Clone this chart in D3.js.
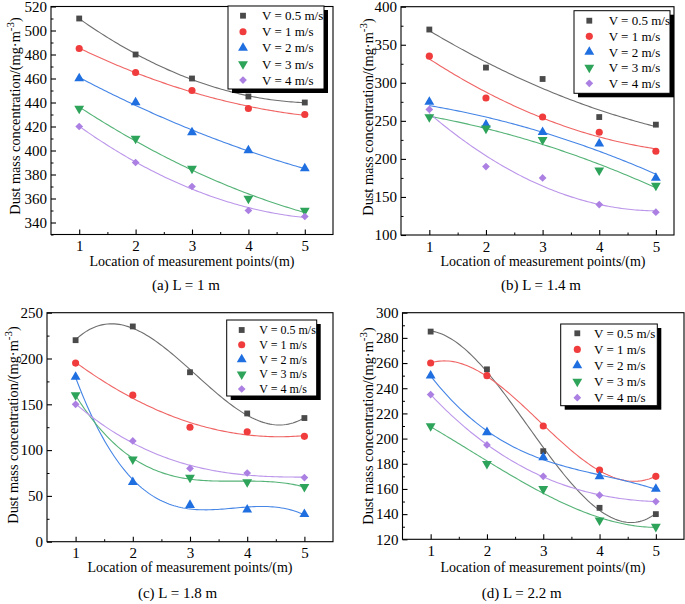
<!DOCTYPE html>
<html><head><meta charset="utf-8">
<script src="https://cdn.jsdelivr.net/npm/d3@7"></script>
<style>
body{margin:0;background:#fff}
svg{display:block}
text{font-family:"Liberation Serif","Times New Roman",serif;fill:#000}
</style>
</head><body>
<svg id="chart" width="685" height="604"></svg>
<script>
// ---------- data ----------
const positions = [1, 2, 3, 4, 5];
const seriesNames = ["V = 0.5 m/s", "V = 1 m/s", "V = 2 m/s", "V = 3 m/s", "V = 4 m/s"];

const panelA = [
  [510, 480, 460, 445, 440],
  [485, 465, 450, 435, 430],
  [460, 440, 415, 400, 385],
  [435, 410, 385, 360, 350],
  [420, 390, 370, 350, 345]
];
const panelB = [
  [370, 320, 305, 255, 245],
  [335, 280, 255, 235, 210],
  [275, 245, 235, 220, 175],
  [255, 240, 225, 185, 165],
  [265, 190, 175, 140, 130]
];
const panelC = [
  [220, 235, 185, 140, 135],
  [195, 160, 125, 120, 115],
  [180, 65, 40, 35, 30],
  [160, 90, 70, 65, 60],
  [150, 110, 80, 75, 70]
];
const panelD = [
  [285, 255, 190, 145, 140],
  [260, 250, 210, 175, 170],
  [250, 205, 185, 170, 160],
  [210, 180, 160, 135, 130],
  [235, 195, 170, 155, 150]
];

const xTicks = [1, 2, 3, 4, 5];
const yTicksA = [340, 360, 380, 400, 420, 440, 460, 480, 500, 520];
const yTicksB = [100, 150, 200, 250, 300, 350, 400];
const yTicksC = [0, 50, 100, 150, 200, 250];
const yTicksD = [120, 140, 160, 180, 200, 220, 240, 260, 280, 300];

const captions = ["(a) L = 1 m", "(b) L = 1.4 m", "(c) L = 1.8 m", "(d) L = 2.2 m"];
const xTitle = "Location of measurement points/(m)";
const yTitleMain = "Dust mass concentration/(mg\u00B7m";
const yTitleSup = "-3";

// ---------- styles ----------
const markerColors = ["#4a4a4a", "#f03c3c", "#1f6fe0", "#2ea35a", "#ab80e2"];
const lineColors = ["#6e6e6e", "#f06464", "#4585e6", "#55b377", "#bb96ea"];

const panels = [
  {data: panelA, yTicks: yTicksA, yDom: [330, 520], xDom: [0.5, 5.5], deg: 2,
   rect: {l: 51, t: 6.5, r: 333, b: 234.5},
   leg: {x: 228, y: 6, w: 96, h: 83, sx: 243, tx: 262, ry: 15.7, dy: 16.1, fs: 13},
   cap: {x: 186, y: 290}, xt: {x: 192, y: 266}, yt: {x: 15, y: 116}},
  {data: panelB, yTicks: yTicksB, yDom: [100, 400], xDom: [0.5, 5.32], deg: 2,
   rect: {l: 401, t: 6.7, r: 674, b: 235},
   leg: {x: 574, y: 10.7, w: 96, h: 82.6, sx: 589.3, tx: 608.7, ry: 20.7, dy: 15.65, fs: 13},
   cap: {x: 541, y: 290}, xt: {x: 543, y: 266}, yt: {x: 368, y: 117}},
  {data: panelC, yTicks: yTicksC, yDom: [0, 250], xDom: [0.5, 5.5], deg: 3,
   rect: {l: 47, t: 312.7, r: 333, b: 541.7},
   leg: {x: 226.7, y: 320, w: 90, h: 76, sx: 241.7, tx: 259.3, ry: 330, dy: 14.75, fs: 12},
   cap: {x: 177.5, y: 598}, xt: {x: 190, y: 572}, yt: {x: 13, y: 425}},
  {data: panelD, yTicks: yTicksD, yDom: [120, 300], xDom: [0.5, 5.5], deg: 3,
   rect: {l: 402.5, t: 312.7, r: 684, b: 539.3},
   leg: {x: 560.7, y: 324, w: 96.6, h: 81.7, sx: 577.3, tx: 594, ry: 333.3, dy: 16.1, fs: 13},
   cap: {x: 521.7, y: 598}, xt: {x: 543, y: 572}, yt: {x: 368, y: 426}}
];

// ---------- least-squares polynomial fit ----------
function polyfit(xs, ys, deg) {
  const n = deg + 1;
  const A = Array.from({length: n}, () => new Array(n + 1).fill(0));
  for (let i = 0; i < n; i++) {
    for (let j = 0; j < n; j++) A[i][j] = d3.sum(xs, x => Math.pow(x, i + j));
    A[i][n] = d3.sum(xs.map((x, k) => ys[k] * Math.pow(x, i)));
  }
  for (let c = 0; c < n; c++) {
    let p = c;
    for (let r = c + 1; r < n; r++) if (Math.abs(A[r][c]) > Math.abs(A[p][c])) p = r;
    [A[c], A[p]] = [A[p], A[c]];
    for (let r = 0; r < n; r++) {
      if (r === c) continue;
      const f = A[r][c] / A[c][c];
      for (let k = c; k <= n; k++) A[r][k] -= f * A[c][k];
    }
  }
  return A.map((row, i) => row[n] / row[i]);
}
const evalPoly = (co, x) => co.reduce((s, c, i) => s + c * Math.pow(x, i), 0);

const symbols = [
  {type: d3.symbolSquare, size: 34, rot: 0},
  {type: d3.symbolCircle, size: 40, rot: 0},
  {type: d3.symbolTriangle, size: 42, rot: 0},
  {type: d3.symbolTriangle, size: 42, rot: 180},
  {type: d3.symbolSquare, size: 30, rot: 45}
];

const svg = d3.select("#chart");

panels.forEach((P, pi) => {
  const R = P.rect;
  const x = d3.scaleLinear().domain(P.xDom).range([R.l, R.r]);
  const y = d3.scaleLinear().domain(P.yDom).range([R.b, R.t]);
  const g = svg.append("g");

  // fit curves
  const line = d3.line().x(d => x(d[0])).y(d => y(d[1]));
  P.data.forEach((vals, si) => {
    const co = polyfit(positions, vals, P.deg);
    const xs = d3.range(positions[0], positions[positions.length - 1] + 1e-9, 0.04);
    g.append("path")
      .attr("d", line(xs.map(v => [v, evalPoly(co, v)])))
      .attr("fill", "none").attr("stroke", lineColors[si]).attr("stroke-width", 1.1);
  });

  // markers
  P.data.forEach((vals, si) => {
    const s = symbols[si];
    const gen = d3.symbol().type(s.type).size(s.size);
    g.selectAll(null).data(vals).enter().append("path")
      .attr("d", gen)
      .attr("transform", (v, i) => `translate(${x(positions[i])},${y(v)}) rotate(${s.rot})`)
      .attr("fill", markerColors[si]);
  });

  // frame
  g.append("rect").attr("x", R.l).attr("y", R.t).attr("width", R.r - R.l).attr("height", R.b - R.t)
    .attr("fill", "none").attr("stroke", "#000").attr("stroke-width", 1.1);

  // y axis
  const yStep = P.yTicks[1] - P.yTicks[0];
  const yMinor = d3.range(P.yDom[0], P.yDom[1] + 1e-9, yStep / 2).filter(v => !P.yTicks.includes(v));
  const ya = g.append("g").attr("transform", `translate(${R.l},0)`)
    .call(d3.axisLeft(y).tickValues(P.yTicks).tickSize(-5).tickPadding(4).tickFormat(d3.format("d")));
  ya.select(".domain").remove();
  ya.selectAll("text").attr("font-size", 15).attr("font-family", "Liberation Serif");
  ya.selectAll("line").attr("stroke-width", 1.1);
  const ym = g.append("g").attr("transform", `translate(${R.l},0)`)
    .call(d3.axisLeft(y).tickValues(yMinor).tickSize(-2.5).tickFormat(""));
  ym.select(".domain").remove();

  // x axis
  const xMinor = d3.range(1.5, P.xDom[1], 1);
  const xa = g.append("g").attr("transform", `translate(0,${R.b})`)
    .call(d3.axisBottom(x).tickValues(xTicks).tickSize(-5).tickPadding(6).tickFormat(d3.format("d")));
  xa.select(".domain").remove();
  xa.selectAll("text").attr("font-size", 15).attr("font-family", "Liberation Serif");
  xa.selectAll("line").attr("stroke-width", 1.1);
  const xm = g.append("g").attr("transform", `translate(0,${R.b})`)
    .call(d3.axisBottom(x).tickValues(xMinor).tickSize(-2.5).tickFormat(""));
  xm.select(".domain").remove();

  // axis titles
  g.append("text").attr("x", P.xt.x).attr("y", P.xt.y).attr("text-anchor", "middle")
    .attr("font-size", 14).text(xTitle);
  const yt = g.append("text").attr("transform", `translate(${P.yt.x + 5},${P.yt.y}) rotate(-90)`)
    .attr("text-anchor", "middle").attr("font-size", 14.3);
  yt.append("tspan").text(yTitleMain);
  yt.append("tspan").attr("dy", -6).attr("font-size", 11).text(yTitleSup);
  yt.append("tspan").attr("dy", 6).text(")");

  // caption
  g.append("text").attr("x", P.cap.x).attr("y", P.cap.y).attr("text-anchor", "middle")
    .attr("font-size", 15).text(captions[pi]);

  // legend
  const L = P.leg;
  g.append("rect").attr("x", L.x + 4).attr("y", L.y + 4).attr("width", L.w).attr("height", L.h).attr("fill", "#000");
  g.append("rect").attr("x", L.x).attr("y", L.y).attr("width", L.w).attr("height", L.h)
    .attr("fill", "#fff").attr("stroke", "#000").attr("stroke-width", 1);
  seriesNames.forEach((name, si) => {
    const s = symbols[si];
    const cy = L.ry + si * L.dy;
    g.append("path").attr("d", d3.symbol().type(s.type).size(s.size)())
      .attr("transform", `translate(${L.sx},${cy}) rotate(${s.rot})`).attr("fill", markerColors[si]);
    g.append("text").attr("x", L.tx).attr("y", cy).attr("dy", "0.35em")
      .attr("font-size", L.fs).text(name);
  });
});
</script>
</body></html>
